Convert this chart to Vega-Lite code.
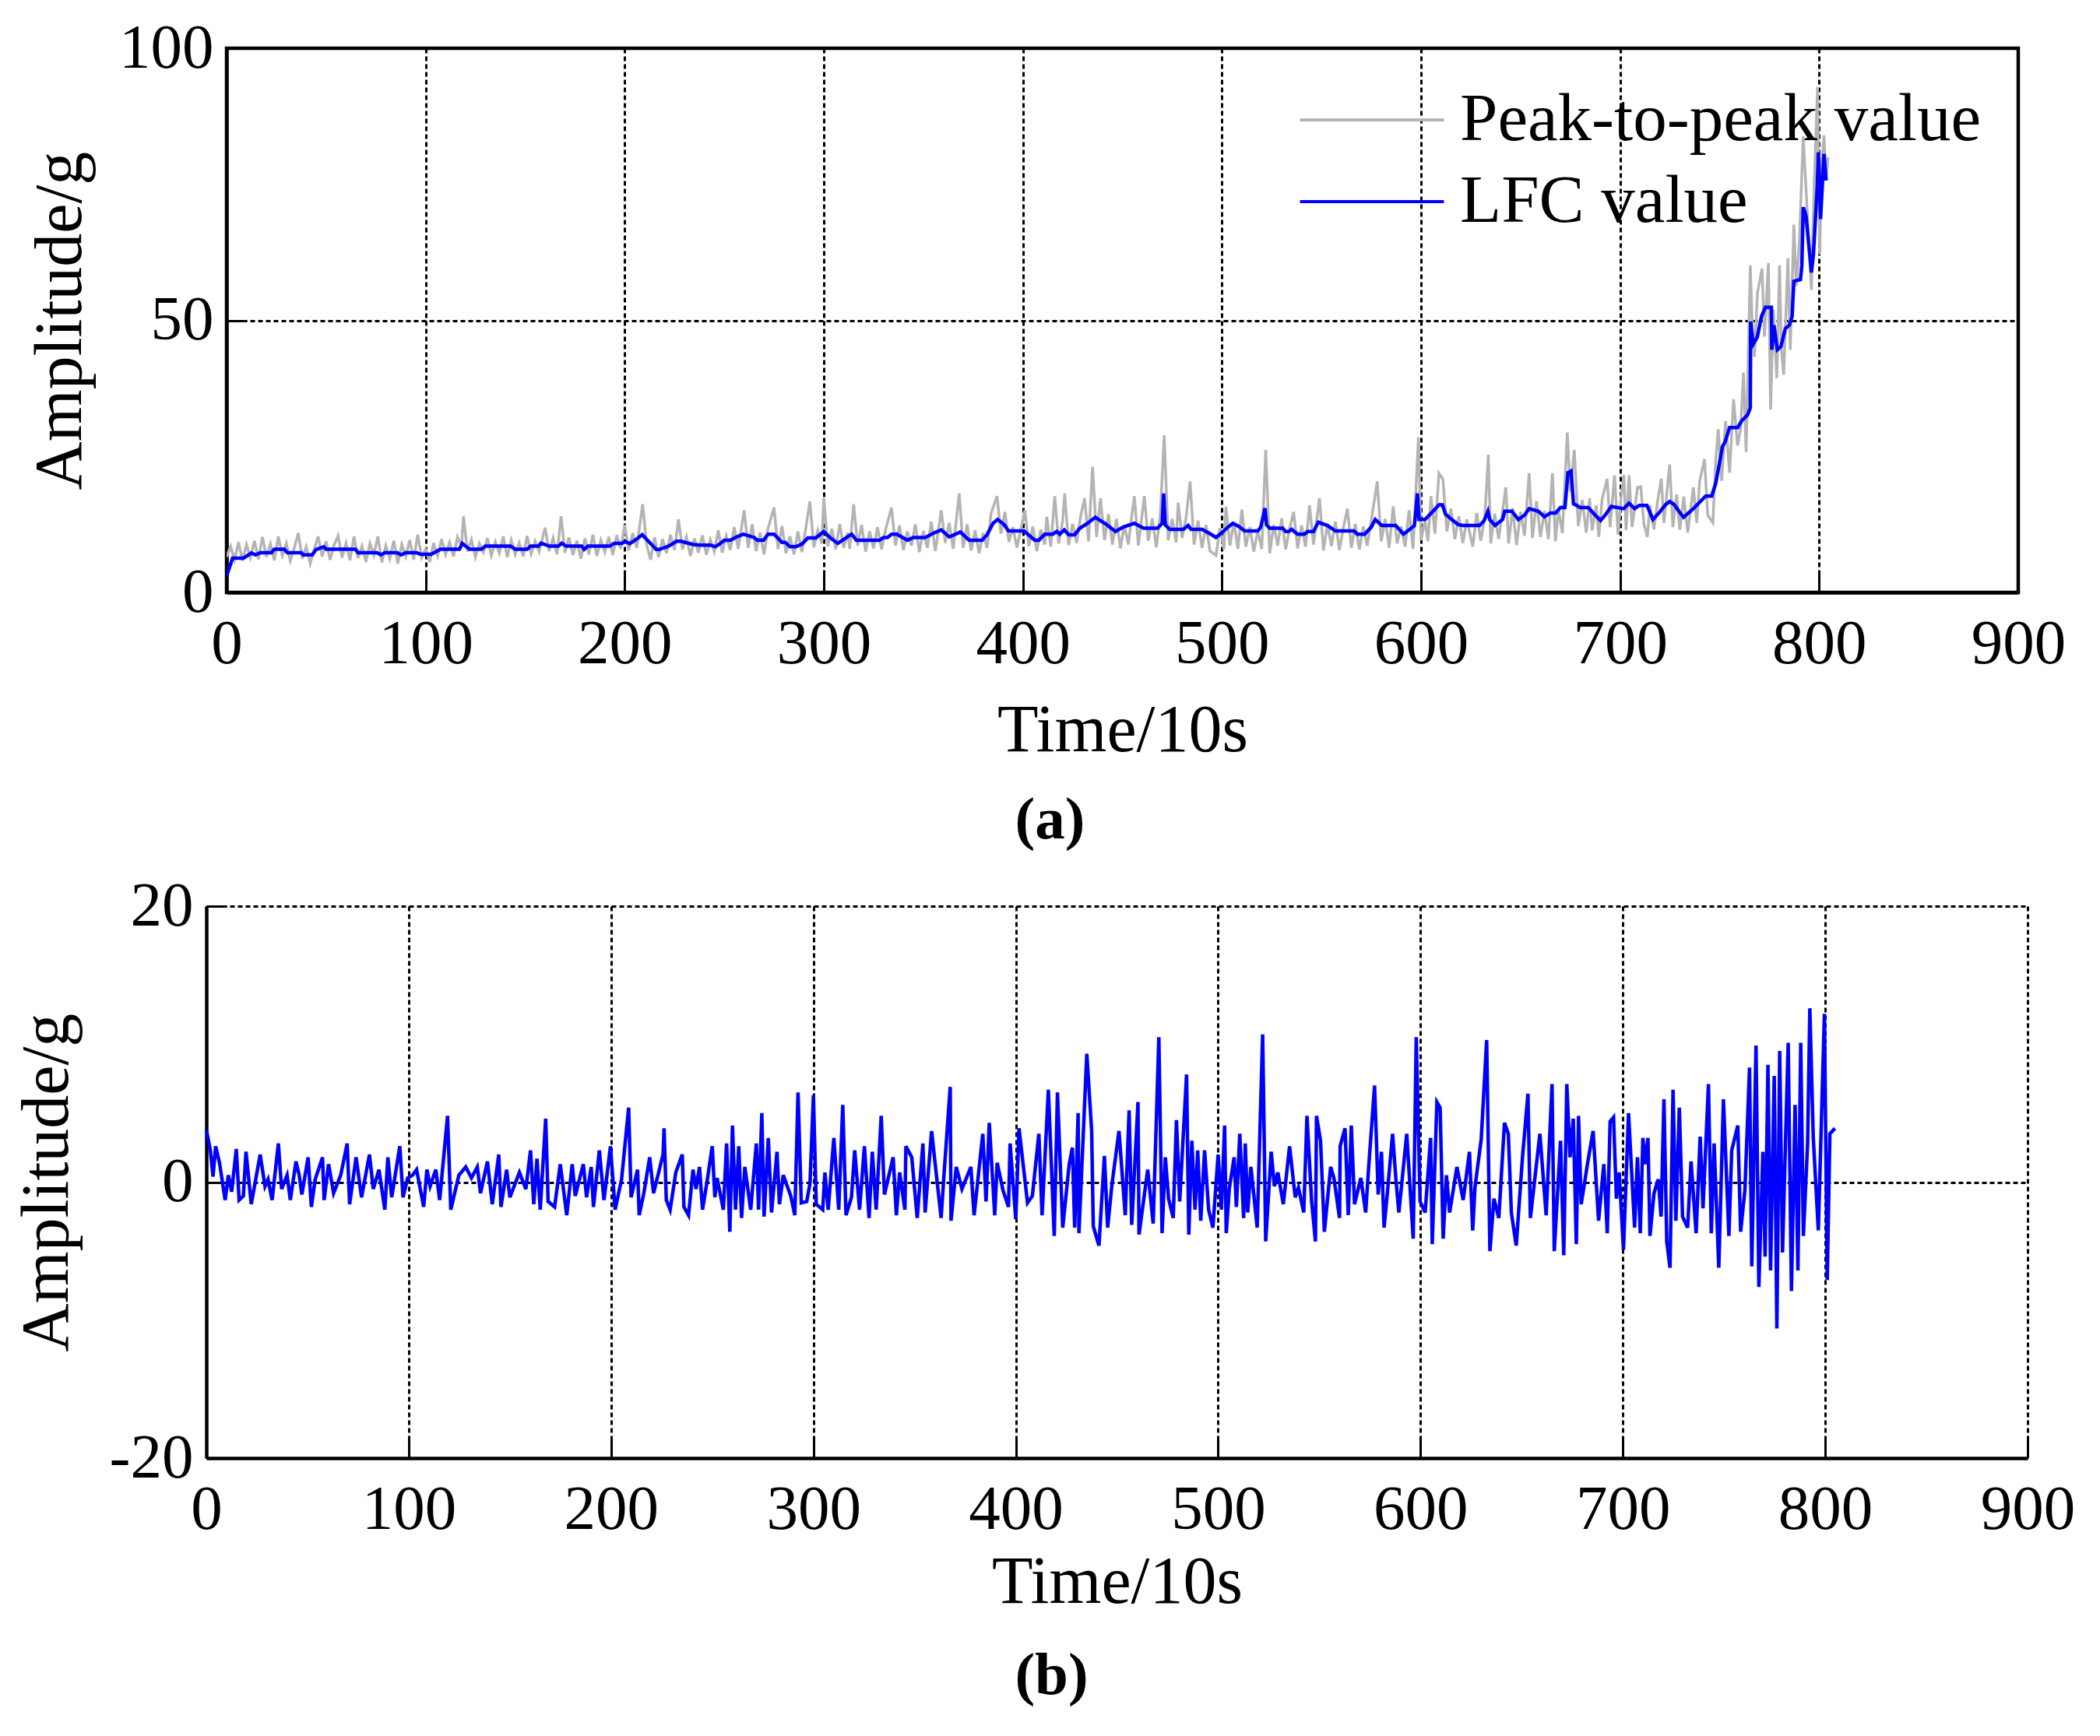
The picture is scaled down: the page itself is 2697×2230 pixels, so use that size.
{
  "$schema": "https://vega.github.io/schema/vega-lite/v6.json",
  "background": "white",
  "padding": {"left": 17, "top": 18, "right": 0, "bottom": 15},
  "spacing": 28,
  "config": {
    "font": "Liberation Serif",
    "view": {"stroke": null},
    "axis": {
      "labelFont": "Liberation Serif", "titleFont": "Liberation Serif",
      "labelFontSize": 81, "titleFontSize": 86,
      "labelColor": "black", "titleColor": "black", "titleFontWeight": "normal",
      "domainColor": "black", "domainWidth": 4.5,
      "tickColor": "black", "tickWidth": 3, "tickSize": -26,
      "grid": true, "gridColor": "black", "gridDash": [6, 4], "gridWidth": 3, "gridOpacity": 1,
      "labelFlush": false, "labelOverlap": false
    },
    "axisX": {"labelPadding": 52},
    "axisY": {"labelPadding": 43}
  },
  "datasets": {
    "pp": [
      {"t":0,"v":6.5},{"t":2,"v":8.5},{"t":4,"v":6.0},{"t":6,"v":9.2},{"t":8,"v":5.8},{"t":10,"v":8.8},{"t":12,"v":6.4},{"t":14,"v":9.5},{"t":16,"v":6.1},{"t":18,"v":10.2},
      {"t":20,"v":6.5},{"t":22,"v":8.9},{"t":24,"v":5.9},{"t":26,"v":10.3},{"t":28,"v":6.8},{"t":30,"v":9.0},{"t":32,"v":5.8},{"t":34,"v":8.1},{"t":36,"v":10.9},{"t":38,"v":6.2},
      {"t":40,"v":8.4},{"t":42,"v":5.3},{"t":44,"v":7.9},{"t":46,"v":10.3},{"t":48,"v":6.6},{"t":50,"v":9.4},{"t":52,"v":6.0},{"t":54,"v":8.7},{"t":56,"v":10.4},{"t":58,"v":6.4},
      {"t":60,"v":9.0},{"t":62,"v":5.9},{"t":64,"v":10.3},{"t":66,"v":6.3},{"t":68,"v":8.5},{"t":70,"v":5.6},{"t":72,"v":9.0},{"t":74,"v":6.9},{"t":76,"v":10.3},{"t":78,"v":5.5},
      {"t":80,"v":8.6},{"t":82,"v":6.2},{"t":84,"v":9.5},{"t":86,"v":5.3},{"t":88,"v":8.8},{"t":90,"v":6.6},{"t":92,"v":9.6},{"t":94,"v":6.0},{"t":96,"v":10.6},{"t":98,"v":6.4},
      {"t":100,"v":8.0},{"t":102,"v":5.6},{"t":104,"v":9.1},{"t":106,"v":6.7},{"t":108,"v":9.8},{"t":110,"v":7.0},{"t":112,"v":9.2},{"t":114,"v":6.6},{"t":116,"v":10.2},{"t":118,"v":8.5},
      {"t":119,"v":14.0},{"t":121,"v":7.5},{"t":123,"v":9.7},{"t":125,"v":6.5},{"t":127,"v":9.0},{"t":129,"v":7.4},{"t":131,"v":10.0},{"t":133,"v":6.8},{"t":135,"v":9.3},{"t":137,"v":7.2},
      {"t":139,"v":10.3},{"t":141,"v":6.5},{"t":143,"v":9.6},{"t":145,"v":7.0},{"t":147,"v":9.1},{"t":149,"v":6.6},{"t":151,"v":10.4},{"t":153,"v":7.1},{"t":155,"v":9.4},{"t":157,"v":7.5},
      {"t":160,"v":11.9},{"t":162,"v":7.6},{"t":164,"v":10.0},{"t":166,"v":7.0},{"t":168,"v":14.0},{"t":170,"v":7.3},{"t":172,"v":10.1},{"t":174,"v":6.9},{"t":176,"v":9.5},{"t":178,"v":6.2},
      {"t":180,"v":9.9},{"t":182,"v":7.0},{"t":184,"v":10.6},{"t":186,"v":6.7},{"t":188,"v":9.6},{"t":190,"v":7.4},{"t":192,"v":10.2},{"t":194,"v":6.9},{"t":196,"v":10.5},{"t":198,"v":8.0},
      {"t":200,"v":12.4},{"t":202,"v":7.7},{"t":204,"v":10.9},{"t":206,"v":8.2},{"t":209,"v":16.2},{"t":211,"v":8.8},{"t":213,"v":6.0},{"t":215,"v":10.1},{"t":217,"v":6.5},{"t":219,"v":9.8},
      {"t":221,"v":7.2},{"t":223,"v":10.6},{"t":225,"v":7.8},{"t":227,"v":13.4},{"t":229,"v":7.9},{"t":231,"v":10.2},{"t":233,"v":6.7},{"t":235,"v":9.9},{"t":237,"v":7.3},{"t":239,"v":10.5},
      {"t":241,"v":6.9},{"t":243,"v":9.7},{"t":245,"v":7.5},{"t":247,"v":11.4},{"t":249,"v":7.3},{"t":251,"v":10.4},{"t":253,"v":7.8},{"t":255,"v":12.0},{"t":257,"v":8.0},{"t":260,"v":15.1},
      {"t":262,"v":8.2},{"t":264,"v":12.5},{"t":266,"v":7.6},{"t":268,"v":11.0},{"t":270,"v":7.0},{"t":272,"v":11.8},{"t":275,"v":15.6},{"t":277,"v":8.0},{"t":279,"v":12.2},{"t":281,"v":7.2},
      {"t":283,"v":10.3},{"t":285,"v":7.0},{"t":287,"v":11.2},{"t":289,"v":7.4},{"t":291,"v":11.9},{"t":293,"v":16.7},{"t":295,"v":8.3},{"t":297,"v":11.4},{"t":299,"v":9.0},{"t":300,"v":17.3},
      {"t":302,"v":8.5},{"t":304,"v":11.7},{"t":306,"v":7.9},{"t":308,"v":12.6},{"t":310,"v":8.2},{"t":312,"v":11.0},{"t":313,"v":8.0},{"t":315,"v":16.2},{"t":317,"v":8.6},{"t":319,"v":12.4},
      {"t":321,"v":7.5},{"t":323,"v":11.2},{"t":325,"v":8.1},{"t":327,"v":12.0},{"t":329,"v":7.9},{"t":331,"v":11.5},{"t":334,"v":15.6},{"t":336,"v":8.6},{"t":338,"v":12.3},{"t":340,"v":7.8},
      {"t":342,"v":11.2},{"t":344,"v":8.6},{"t":346,"v":12.5},{"t":348,"v":7.4},{"t":350,"v":11.3},{"t":352,"v":8.2},{"t":354,"v":13.0},{"t":356,"v":7.6},{"t":359,"v":15.1},{"t":361,"v":9.1},
      {"t":363,"v":12.8},{"t":365,"v":8.0},{"t":368,"v":18.2},{"t":370,"v":8.2},{"t":372,"v":12.5},{"t":374,"v":7.7},{"t":376,"v":11.4},{"t":378,"v":7.2},{"t":380,"v":10.9},{"t":382,"v":8.2},
      {"t":384,"v":14.5},{"t":387,"v":17.7},{"t":389,"v":10.8},{"t":391,"v":14.8},{"t":393,"v":9.3},{"t":395,"v":12.0},{"t":397,"v":8.2},{"t":399,"v":11.6},{"t":401,"v":15.1},{"t":403,"v":8.5},
      {"t":405,"v":12.1},{"t":407,"v":7.6},{"t":409,"v":11.5},{"t":411,"v":8.8},{"t":412,"v":13.9},{"t":414,"v":8.4},{"t":416,"v":17.7},{"t":418,"v":9.0},{"t":420,"v":13.2},{"t":421,"v":18.2},
      {"t":423,"v":8.7},{"t":425,"v":12.6},{"t":427,"v":9.1},{"t":429,"v":14.0},{"t":431,"v":17.3},{"t":433,"v":9.4},{"t":435,"v":23.1},{"t":437,"v":10.2},{"t":439,"v":17.3},{"t":441,"v":9.6},
      {"t":443,"v":14.4},{"t":445,"v":8.8},{"t":447,"v":13.5},{"t":449,"v":8.1},{"t":451,"v":12.4},{"t":453,"v":8.8},{"t":455,"v":15.0},{"t":456,"v":17.7},{"t":458,"v":8.6},{"t":461,"v":17.7},
      {"t":463,"v":9.5},{"t":465,"v":13.6},{"t":467,"v":8.3},{"t":469,"v":14.1},{"t":471,"v":28.9},{"t":473,"v":9.6},{"t":475,"v":13.5},{"t":477,"v":9.2},{"t":478,"v":16.5},{"t":480,"v":10.0},
      {"t":482,"v":13.8},{"t":484,"v":20.4},{"t":486,"v":8.8},{"t":488,"v":13.2},{"t":490,"v":8.2},{"t":492,"v":12.4},{"t":494,"v":7.6},{"t":497,"v":6.8},{"t":499,"v":11.8},{"t":501,"v":7.9},
      {"t":502,"v":15.8},{"t":504,"v":8.6},{"t":506,"v":12.9},{"t":508,"v":8.0},{"t":510,"v":15.2},{"t":512,"v":8.4},{"t":514,"v":12.0},{"t":516,"v":7.5},{"t":518,"v":11.3},{"t":520,"v":8.0},
      {"t":522,"v":26.2},{"t":524,"v":7.2},{"t":526,"v":12.4},{"t":528,"v":8.6},{"t":530,"v":13.6},{"t":532,"v":7.9},{"t":534,"v":11.8},{"t":536,"v":14.8},{"t":538,"v":8.1},{"t":540,"v":12.3},
      {"t":542,"v":8.4},{"t":544,"v":16.0},{"t":546,"v":8.8},{"t":549,"v":17.3},{"t":551,"v":7.7},{"t":553,"v":12.6},{"t":555,"v":8.5},{"t":557,"v":13.0},{"t":559,"v":7.8},{"t":561,"v":11.9},
      {"t":563,"v":15.4},{"t":565,"v":8.2},{"t":567,"v":12.6},{"t":569,"v":7.9},{"t":571,"v":12.1},{"t":573,"v":8.6},{"t":575,"v":13.2},{"t":578,"v":20.4},{"t":580,"v":9.4},{"t":582,"v":13.5},
      {"t":584,"v":8.2},{"t":586,"v":15.8},{"t":588,"v":9.0},{"t":590,"v":12.1},{"t":592,"v":8.4},{"t":594,"v":15.1},{"t":596,"v":8.0},{"t":598.7,"v":28.5},{"t":600,"v":9.6},{"t":602,"v":13.2},
      {"t":603.5,"v":9.4},{"t":605,"v":17.7},{"t":607,"v":10.8},{"t":609,"v":21.9},{"t":611,"v":20.8},{"t":613,"v":11.2},{"t":615,"v":15.4},{"t":617,"v":9.8},{"t":619,"v":14.0},{"t":621,"v":9.1},
      {"t":623,"v":13.4},{"t":626,"v":8.4},{"t":628,"v":14.6},{"t":630,"v":9.5},{"t":632,"v":13.7},{"t":633.8,"v":25.3},{"t":635,"v":9.0},{"t":637,"v":14.5},{"t":639,"v":9.8},{"t":641,"v":15.1},
      {"t":642.6,"v":19.3},{"t":644,"v":9.0},{"t":646,"v":15.5},{"t":648,"v":8.7},{"t":650,"v":14.8},{"t":652,"v":10.4},{"t":654.3,"v":21.9},{"t":656,"v":10.0},{"t":658,"v":16.8},{"t":660,"v":10.2},
      {"t":662,"v":15.0},{"t":664,"v":9.8},{"t":666,"v":21.9},{"t":667.5,"v":9.4},{"t":669,"v":15.2},{"t":671,"v":10.9},{"t":673.5,"v":29.4},{"t":675,"v":18.5},{"t":677,"v":26.2},{"t":679,"v":12.2},
      {"t":681,"v":17.0},{"t":683,"v":11.0},{"t":684.7,"v":17.3},{"t":686,"v":11.4},{"t":688,"v":16.0},{"t":689.3,"v":10.2},{"t":691,"v":17.2},{"t":693.5,"v":20.9},{"t":695,"v":12.0},{"t":697.2,"v":21.5},
      {"t":699,"v":10.6},{"t":700.5,"v":17.5},{"t":701.9,"v":21.6},{"t":703,"v":11.5},{"t":704.5,"v":21.5},{"t":706,"v":12.0},{"t":708.8,"v":19.3},{"t":710.4,"v":19.4},{"t":712,"v":12.5},{"t":713.7,"v":10.2},
      {"t":715,"v":16.0},{"t":717,"v":11.6},{"t":719,"v":17.2},{"t":720.7,"v":20.9},{"t":722,"v":12.8},{"t":724.9,"v":23.5},{"t":726.5,"v":12.0},{"t":728.4,"v":18.0},{"t":730,"v":11.5},{"t":732,"v":17.6},
      {"t":734,"v":11.0},{"t":736.8,"v":19.3},{"t":738.5,"v":12.8},{"t":740,"v":20.5},{"t":742.4,"v":24.5},{"t":744,"v":14.2},{"t":746.6,"v":12.8},{"t":748,"v":24.0},{"t":749.3,"v":30.0},{"t":751,"v":20.5},
      {"t":753,"v":31.5},{"t":755,"v":22.0},{"t":757,"v":35.5},{"t":759,"v":27.0},{"t":760.5,"v":30.0},{"t":762,"v":40.4},{"t":763.3,"v":25.8},{"t":765.4,"v":60.1},{"t":766.5,"v":48.0},{"t":767.5,"v":43.3},
      {"t":769,"v":55.0},{"t":771.3,"v":59.5},{"t":772.5,"v":47.0},{"t":774.5,"v":60.5},{"t":775.6,"v":33.6},{"t":777,"v":52.0},{"t":778.7,"v":39.4},{"t":780.1,"v":60.1},{"t":781,"v":45.0},{"t":782.2,"v":40.0},
      {"t":784.3,"v":61.4},{"t":785.5,"v":44.6},{"t":787.3,"v":67.6},{"t":788.5,"v":56.3},{"t":790,"v":64.0},{"t":792,"v":83.8},{"t":794,"v":70.0},{"t":796.1,"v":55.6},{"t":797.5,"v":75.0},{"t":799.2,"v":92.9},
      {"t":800.3,"v":62.1},{"t":801.2,"v":78.0},{"t":802.4,"v":84.0},{"t":803.5,"v":76.0},{"t":804.5,"v":80.0}
    ],
    "lfc": [
      {"t":0,"v":3.0},{"t":3,"v":6.3},{"t":8.5,"v":6.3},{"t":12.5,"v":7.25},{"t":14.5,"v":6.9},{"t":17,"v":7.3},{"t":22.5,"v":7.3},{"t":24,"v":7.95},{"t":29,"v":7.95},{"t":30.5,"v":7.3},
      {"t":37.5,"v":7.3},{"t":38.5,"v":6.9},{"t":43,"v":6.9},{"t":45,"v":7.9},{"t":48.8,"v":8.4},{"t":50,"v":7.95},{"t":64.7,"v":7.95},{"t":66,"v":7.3},{"t":75.6,"v":7.3},{"t":77.5,"v":6.9},
      {"t":79.5,"v":7.3},{"t":85.7,"v":7.3},{"t":87.7,"v":6.9},{"t":90,"v":7.3},{"t":95.5,"v":7.3},{"t":97.4,"v":7.0},{"t":102.8,"v":7.0},{"t":107.5,"v":7.95},{"t":117,"v":7.95},{"t":118.4,"v":9.0},
      {"t":122,"v":7.95},{"t":128,"v":7.95},{"t":130,"v":8.5},{"t":142.6,"v":8.5},{"t":145,"v":7.95},{"t":151,"v":7.95},{"t":152.7,"v":8.5},{"t":156.6,"v":8.5},{"t":158,"v":9.05},{"t":162,"v":8.5},
      {"t":166.7,"v":8.5},{"t":168.3,"v":9.05},{"t":170.6,"v":8.5},{"t":178.4,"v":8.5},{"t":179.6,"v":7.9},{"t":181.5,"v":8.5},{"t":192.4,"v":8.5},{"t":194.7,"v":9.0},{"t":198.6,"v":9.0},{"t":200.2,"v":9.4},
      {"t":202.5,"v":8.95},{"t":206.4,"v":9.9},{"t":208.8,"v":10.6},{"t":211.9,"v":9.4},{"t":215.8,"v":7.9},{"t":217.3,"v":7.9},{"t":222,"v":8.5},{"t":226,"v":9.4},{"t":228.2,"v":9.4},{"t":234.5,"v":8.8},
      {"t":238,"v":8.7},{"t":243,"v":8.7},{"t":245.5,"v":8.4},{"t":248,"v":9.0},{"t":250,"v":9.6},{"t":253,"v":9.6},{"t":255.7,"v":10.1},{"t":259.6,"v":10.7},{"t":265,"v":10.1},{"t":266.6,"v":9.6},
      {"t":269.7,"v":9.6},{"t":272,"v":10.7},{"t":275,"v":10.7},{"t":279,"v":9.2},{"t":280.6,"v":9.2},{"t":283,"v":8.4},{"t":286,"v":8.4},{"t":289,"v":8.9},{"t":292,"v":10.0},{"t":296,"v":10.0},
      {"t":300,"v":11.2},{"t":303,"v":10.1},{"t":307,"v":9.0},{"t":311,"v":10.0},{"t":314,"v":10.7},{"t":316.4,"v":9.6},{"t":328,"v":9.6},{"t":330,"v":10.1},{"t":332,"v":10.1},{"t":334,"v":10.7},
      {"t":336.7,"v":10.7},{"t":342,"v":9.6},{"t":345,"v":10.1},{"t":351,"v":10.1},{"t":354.6,"v":10.8},{"t":359,"v":11.5},{"t":363,"v":10.2},{"t":368.6,"v":11.1},{"t":373,"v":9.6},{"t":379.5,"v":9.6},
      {"t":382,"v":10.6},{"t":385,"v":12.7},{"t":387.3,"v":13.4},{"t":390.5,"v":12.5},{"t":392.8,"v":11.3},{"t":400.6,"v":11.3},{"t":406,"v":9.6},{"t":408,"v":9.6},{"t":411,"v":10.7},{"t":415,"v":10.7},
      {"t":417,"v":11.2},{"t":418.5,"v":10.7},{"t":420.8,"v":11.5},{"t":423,"v":10.6},{"t":426,"v":10.6},{"t":428.6,"v":11.8},{"t":432.5,"v":12.7},{"t":436.4,"v":13.8},{"t":441.9,"v":12.5},{"t":446.5,"v":11.2},
      {"t":450.4,"v":12.0},{"t":456,"v":12.7},{"t":460.6,"v":11.8},{"t":467.6,"v":11.8},{"t":470,"v":12.7},{"t":470.7,"v":18.2},{"t":471.5,"v":12.4},{"t":473.8,"v":11.6},{"t":480.6,"v":11.6},{"t":483,"v":12.3},
      {"t":484.5,"v":11.6},{"t":490,"v":11.6},{"t":494,"v":10.8},{"t":497,"v":10.1},{"t":500,"v":11.0},{"t":503,"v":12.0},{"t":505.5,"v":12.7},{"t":508.6,"v":12.1},{"t":511.4,"v":11.3},{"t":518,"v":11.3},
      {"t":519.5,"v":12.0},{"t":521.6,"v":15.5},{"t":522.4,"v":12.4},{"t":524,"v":11.8},{"t":530.5,"v":11.8},{"t":532,"v":11.2},{"t":533.6,"v":11.2},{"t":535,"v":11.6},{"t":538,"v":10.7},{"t":541.4,"v":10.7},
      {"t":543,"v":11.2},{"t":546,"v":11.2},{"t":548.4,"v":12.9},{"t":553,"v":12.3},{"t":557,"v":11.3},{"t":566.3,"v":11.3},{"t":568,"v":10.7},{"t":571.7,"v":10.7},{"t":575,"v":12.0},{"t":577,"v":13.4},
      {"t":580.3,"v":12.3},{"t":587.3,"v":12.3},{"t":591.2,"v":10.7},{"t":594.3,"v":11.6},{"t":596.7,"v":12.3},{"t":598.2,"v":18.2},{"t":599,"v":13.4},{"t":602,"v":13.4},{"t":606,"v":14.9},{"t":609,"v":16.1},
      {"t":610.7,"v":16.1},{"t":612.3,"v":14.4},{"t":615.4,"v":13.4},{"t":618.5,"v":12.5},{"t":620.8,"v":12.3},{"t":629.4,"v":12.3},{"t":631.7,"v":13.2},{"t":633.6,"v":14.9},{"t":634.5,"v":13.4},{"t":637.2,"v":12.3},
      {"t":641,"v":13.4},{"t":642,"v":14.9},{"t":645.7,"v":14.9},{"t":648.9,"v":13.4},{"t":652,"v":14.2},{"t":654.3,"v":15.4},{"t":659,"v":14.9},{"t":662,"v":13.9},{"t":665,"v":14.6},{"t":667.6,"v":14.6},
      {"t":670,"v":15.6},{"t":672.3,"v":15.6},{"t":673.8,"v":22.0},{"t":675.4,"v":22.3},{"t":676.6,"v":16.3},{"t":680,"v":15.6},{"t":684,"v":15.6},{"t":687,"v":14.4},{"t":690.2,"v":13.2},{"t":692.5,"v":14.2},
      {"t":695.6,"v":15.8},{"t":697,"v":15.7},{"t":701.8,"v":15.4},{"t":704.5,"v":16.4},{"t":707.3,"v":15.4},{"t":709.6,"v":16.0},{"t":713.5,"v":16.0},{"t":716.5,"v":13.4},{"t":719.3,"v":14.5},{"t":722.8,"v":16.1},
      {"t":724.9,"v":16.7},{"t":727,"v":16.2},{"t":729.8,"v":14.8},{"t":731.9,"v":13.8},{"t":736.8,"v":15.4},{"t":740.3,"v":16.7},{"t":743,"v":17.7},{"t":746,"v":17.7},{"t":748,"v":20.0},{"t":750,"v":23.9},
      {"t":751.4,"v":26.8},{"t":752.8,"v":27.7},{"t":755,"v":30.3},{"t":759.1,"v":30.3},{"t":761.2,"v":31.6},{"t":764,"v":32.6},{"t":765.4,"v":33.9},{"t":765.6,"v":49.8},{"t":766.8,"v":45.6},{"t":768.9,"v":46.9},
      {"t":771,"v":50.7},{"t":773,"v":52.4},{"t":776,"v":52.4},{"t":776.2,"v":44.6},{"t":777.3,"v":49.1},{"t":779,"v":44.6},{"t":780.8,"v":45.2},{"t":783,"v":48.5},{"t":785,"v":49.1},{"t":786.4,"v":50.7},
      {"t":787.3,"v":57.2},{"t":790.6,"v":57.5},{"t":791.3,"v":60.1},{"t":792,"v":70.8},{"t":793.4,"v":69.2},{"t":796.1,"v":58.8},{"t":797.1,"v":62.0},{"t":799,"v":74.4},{"t":799.6,"v":80.9},{"t":800.3,"v":74.4},
      {"t":800.7,"v":68.6},{"t":802.4,"v":80.6},{"t":803.5,"v":75.7}
    ],
    "d": [
      {"t":0,"v":3.8},{"t":2,"v":2.3},{"t":3.3,"v":0.4},{"t":4.6,"v":2.6},{"t":6.5,"v":1.4},{"t":9.3,"v":-1.3},{"t":10.9,"v":0.5},{"t":12.5,"v":-0.7},{"t":14.8,"v":2.4},{"t":16.2,"v":-1.3},
      {"t":18.3,"v":-1.0},{"t":19.6,"v":2.2},{"t":22.2,"v":-1.6},{"t":26.6,"v":2.0},{"t":29,"v":-0.3},{"t":30.5,"v":0.2},{"t":32.5,"v":-1.3},{"t":35.6,"v":2.8},{"t":37.2,"v":-0.5},{"t":39.9,"v":0.5},
      {"t":41.5,"v":-1.3},{"t":44.3,"v":1.5},{"t":45.9,"v":0.5},{"t":47.2,"v":-0.9},{"t":50.3,"v":1.8},{"t":51.9,"v":-1.8},{"t":53.8,"v":0.2},{"t":57.4,"v":1.8},{"t":58.2,"v":-1.3},{"t":60.4,"v":1.3},
      {"t":62.9,"v":-0.8},{"t":66.4,"v":0.5},{"t":69.6,"v":2.8},{"t":70.8,"v":-1.6},{"t":74,"v":1.8},{"t":76.7,"v":-1.1},{"t":80.6,"v":2.0},{"t":82.5,"v":-0.5},{"t":85.3,"v":0.9},{"t":88.2,"v":-2.0},
      {"t":89.7,"v":1.8},{"t":91.6,"v":-1.1},{"t":95.6,"v":2.6},{"t":97.2,"v":-1.1},{"t":99.5,"v":0.3},{"t":101.9,"v":0.5},{"t":103.9,"v":0.9},{"t":107.4,"v":-1.8},{"t":109,"v":0.9},{"t":110.6,"v":-0.3},
      {"t":113.4,"v":0.9},{"t":115.3,"v":-1.3},{"t":119.2,"v":4.8},{"t":120.8,"v":-2.0},{"t":124.8,"v":0.5},{"t":128.2,"v":1.1},{"t":131,"v":0.3},{"t":133.9,"v":1.1},{"t":135.5,"v":-0.8},{"t":138.9,"v":1.5},
      {"t":141.3,"v":-1.6},{"t":144.5,"v":2.0},{"t":145.6,"v":-1.8},{"t":148.4,"v":0.9},{"t":150,"v":-1.1},{"t":154.7,"v":0.7},{"t":157.9,"v":-0.5},{"t":160.2,"v":2.3},{"t":161.8,"v":-1.6},{"t":163.4,"v":1.7},
      {"t":165,"v":-2.0},{"t":167.7,"v":4.6},{"t":168.9,"v":-1.4},{"t":172.1,"v":-1.8},{"t":174.9,"v":1.3},{"t":178.1,"v":-2.4},{"t":180.8,"v":1.3},{"t":182.3,"v":-1.0},{"t":186.3,"v":1.3},{"t":187.9,"v":-1.1},
      {"t":190.2,"v":1.1},{"t":191.3,"v":-1.8},{"t":194.2,"v":2.3},{"t":196.5,"v":-1.3},{"t":199.7,"v":2.6},{"t":202,"v":-2.0},{"t":205.2,"v":0.2},{"t":208.7,"v":5.4},{"t":209.9,"v":-1.1},{"t":213.1,"v":0.9},
      {"t":213.9,"v":-2.4},{"t":216.2,"v":-0.8},{"t":219.1,"v":1.8},{"t":221,"v":-0.8},{"t":225.7,"v":2.0},{"t":226.2,"v":3.9},{"t":227.3,"v":-1.3},{"t":229.2,"v":-2.0},{"t":232,"v":0.7},{"t":235.2,"v":2.0},
      {"t":236,"v":-1.8},{"t":238.3,"v":-2.4},{"t":240.5,"v":0.9},{"t":242,"v":-0.5},{"t":243.7,"v":1.1},{"t":245.2,"v":-2.0},{"t":247.6,"v":0.2},{"t":250,"v":2.6},{"t":251.3,"v":-1.1},{"t":252.4,"v":0.3},
      {"t":255.5,"v":-2.0},{"t":257.1,"v":2.8},{"t":258.7,"v":-3.6},{"t":260,"v":4.1},{"t":261.5,"v":-2.0},{"t":263.1,"v":2.6},{"t":264.5,"v":-2.6},{"t":266.1,"v":1.1},{"t":269,"v":-2.0},{"t":271.8,"v":2.8},
      {"t":272.9,"v":-2.0},{"t":274.5,"v":5.0},{"t":275.6,"v":-2.5},{"t":277.7,"v":3.2},{"t":279.3,"v":-2.2},{"t":282,"v":2.2},{"t":283.2,"v":-1.6},{"t":285.1,"v":0.5},{"t":288.8,"v":-1.0},{"t":290.8,"v":-2.4},
      {"t":292.4,"v":6.5},{"t":294,"v":-1.5},{"t":296.7,"v":-1.4},{"t":298.3,"v":-0.1},{"t":300,"v":6.3},{"t":301.4,"v":-1.6},{"t":304.6,"v":-2.0},{"t":305.7,"v":0.7},{"t":307.3,"v":-2.0},{"t":310.1,"v":3.2},
      {"t":312.5,"v":-2.0},{"t":314.5,"v":5.6},{"t":316.1,"v":-2.4},{"t":318.8,"v":-1.1},{"t":320.4,"v":2.3},{"t":322.8,"v":-2.0},{"t":325.2,"v":2.6},{"t":327.5,"v":-2.6},{"t":329.1,"v":2.2},{"t":331,"v":-2.0},
      {"t":333.5,"v":4.8},{"t":335.1,"v":-0.9},{"t":339.4,"v":1.8},{"t":341,"v":-2.4},{"t":342.6,"v":0.7},{"t":345.2,"v":-2.0},{"t":345.7,"v":2.6},{"t":348.6,"v":1.8},{"t":351.3,"v":-2.6},{"t":354.1,"v":2.8},
      {"t":355.2,"v":-2.2},{"t":358.4,"v":3.7},{"t":363.1,"v":-2.6},{"t":364.7,"v":0.9},{"t":367.6,"v":6.9},{"t":368,"v":-2.8},{"t":370.6,"v":1.1},{"t":373.4,"v":-0.5},{"t":377.8,"v":1.1},{"t":379.4,"v":-2.4},
      {"t":383.7,"v":3.5},{"t":385.3,"v":-1.4},{"t":386.9,"v":4.3},{"t":389.6,"v":-2.4},{"t":390.8,"v":1.4},{"t":393.7,"v":-0.6},{"t":396.4,"v":-1.8},{"t":397.2,"v":2.8},{"t":400,"v":-2.7},{"t":401.6,"v":3.9},
      {"t":405.8,"v":-1.5},{"t":408.2,"v":-1.0},{"t":411.4,"v":3.5},{"t":413,"v":-2.4},{"t":416.1,"v":6.7},{"t":419,"v":-3.9},{"t":420.6,"v":6.5},{"t":423.2,"v":-3.3},{"t":426.4,"v":1.3},{"t":428,"v":2.5},
      {"t":429.1,"v":-3.3},{"t":430.8,"v":5.0},{"t":431.2,"v":-3.7},{"t":435.1,"v":9.3},{"t":437.5,"v":3.7},{"t":438.3,"v":-3.2},{"t":441.1,"v":-4.6},{"t":443.8,"v":1.9},{"t":445.4,"v":-3.3},{"t":447.5,"v":-0.2},
      {"t":451,"v":3.7},{"t":454.1,"v":-2.4},{"t":456,"v":5.2},{"t":457.3,"v":-3.1},{"t":460.4,"v":5.8},{"t":460.9,"v":-3.8},{"t":465.2,"v":0.9},{"t":467.9,"v":-3.0},{"t":470.7,"v":10.5},{"t":472.3,"v":-3.7},
      {"t":473.9,"v":1.8},{"t":475.5,"v":-1.2},{"t":477.8,"v":-2.6},{"t":479.4,"v":4.5},{"t":481,"v":-1.4},{"t":484.4,"v":7.8},{"t":485.5,"v":-3.8},{"t":487,"v":3.0},{"t":488.6,"v":-2.0},{"t":489.9,"v":2.3},
      {"t":491.4,"v":-2.8},{"t":493.3,"v":2.3},{"t":495.3,"v":-2.0},{"t":497.4,"v":-3.3},{"t":500,"v":2.0},{"t":501.6,"v":-2.0},{"t":503.2,"v":4.1},{"t":504,"v":-3.7},{"t":505.5,"v":-0.5},{"t":507.9,"v":1.8},
      {"t":509,"v":-1.8},{"t":510.7,"v":3.5},{"t":512.6,"v":-2.6},{"t":513.4,"v":2.8},{"t":514.6,"v":-2.2},{"t":516.2,"v":1.1},{"t":519.3,"v":-3.3},{"t":522,"v":10.7},{"t":523.5,"v":-4.3},{"t":526.2,"v":2.2},
      {"t":527.8,"v":-0.3},{"t":529.5,"v":0.7},{"t":532.2,"v":-1.6},{"t":535.3,"v":2.6},{"t":538.1,"v":-1.1},{"t":539.7,"v":-0.4},{"t":542.3,"v":-2.2},{"t":543.9,"v":4.8},{"t":546.2,"v":-1.4},{"t":548.1,"v":-4.3},
      {"t":548.6,"v":4.8},{"t":550.6,"v":3.0},{"t":552.5,"v":-3.6},{"t":555.6,"v":1.1},{"t":557.2,"v":0.3},{"t":560,"v":-2.6},{"t":560.3,"v":2.6},{"t":562.7,"v":3.9},{"t":564.3,"v":-2.4},{"t":565.8,"v":4.1},
      {"t":567.4,"v":-1.6},{"t":570.5,"v":0.3},{"t":572.9,"v":-2.2},{"t":574.4,"v":1.1},{"t":577.3,"v":7.0},{"t":579.1,"v":-0.9},{"t":580.7,"v":2.2},{"t":582,"v":-3.3},{"t":583.8,"v":-0.5},{"t":586.2,"v":3.5},
      {"t":587.8,"v":0.3},{"t":589.3,"v":-2.2},{"t":593.2,"v":3.5},{"t":596.4,"v":-4.1},{"t":597.9,"v":10.5},{"t":599.8,"v":-1.4},{"t":602.3,"v":-2.2},{"t":605,"v":3.2},{"t":605.8,"v":-4.5},{"t":608.1,"v":5.8},
      {"t":609.7,"v":5.4},{"t":611.2,"v":-4.1},{"t":612.8,"v":0.5},{"t":614.4,"v":-2.2},{"t":618,"v":1.1},{"t":621.1,"v":-1.3},{"t":624.2,"v":2.2},{"t":625.8,"v":-3.5},{"t":626.9,"v":-0.4},{"t":630,"v":3.1},
      {"t":632.7,"v":10.3},{"t":634.3,"v":-5.0},{"t":636.3,"v":-1.2},{"t":638.7,"v":-2.6},{"t":641.5,"v":4.3},{"t":643.4,"v":3.5},{"t":644.9,"v":-2.2},{"t":647.3,"v":-4.6},{"t":650.4,"v":1.8},{"t":653.1,"v":6.4},
      {"t":654.3,"v":-2.6},{"t":659,"v":3.5},{"t":662.1,"v":-2.4},{"t":665,"v":7.1},{"t":666.1,"v":-5.0},{"t":669.2,"v":3.0},{"t":670.8,"v":-5.3},{"t":672.3,"v":7.1},{"t":673.9,"v":1.8},{"t":675.5,"v":4.6},
      {"t":677,"v":-4.5},{"t":678.1,"v":4.8},{"t":679.4,"v":-1.6},{"t":682.5,"v":1.3},{"t":685.3,"v":3.7},{"t":688,"v":-2.8},{"t":690.6,"v":1.3},{"t":692.3,"v":-3.7},{"t":693.7,"v":4.4},{"t":695.4,"v":4.7},
      {"t":696.8,"v":-1.2},{"t":698.2,"v":0.7},{"t":700.3,"v":-4.9},{"t":702.8,"v":5.0},{"t":705.8,"v":-3.3},{"t":707.2,"v":1.8},{"t":708.6,"v":-3.7},{"t":709.9,"v":3.2},{"t":711,"v":1.3},{"t":712.4,"v":3.2},
      {"t":713.4,"v":-3.9},{"t":715.4,"v":-0.8},{"t":717.5,"v":0.2},{"t":718.9,"v":-2.5},{"t":720.3,"v":6.0},{"t":721.7,"v":-4.3},{"t":723.3,"v":-6.2},{"t":724.8,"v":6.7},{"t":726.2,"v":-2.8},{"t":727.9,"v":5.4},
      {"t":729.5,"v":-2.5},{"t":732,"v":-3.3},{"t":733.7,"v":1.5},{"t":736.2,"v":-3.7},{"t":738.2,"v":3.3},{"t":739.6,"v":-1.9},{"t":742.3,"v":7.1},{"t":743.7,"v":-3.7},{"t":745.1,"v":2.8},{"t":747.4,"v":-6.2},
      {"t":749.7,"v":6.0},{"t":752.4,"v":-3.9},{"t":753.8,"v":2.3},{"t":756.8,"v":4.1},{"t":758.2,"v":-3.6},{"t":760.3,"v":-0.6},{"t":762.6,"v":8.3},{"t":763.7,"v":-6.1},{"t":765.8,"v":9.9},{"t":767.2,"v":-7.6},
      {"t":769.2,"v":2.2},{"t":770.3,"v":-5.4},{"t":771.7,"v":8.5},{"t":773,"v":-6.4},{"t":774.8,"v":7.7},{"t":776.1,"v":-10.6},{"t":777.5,"v":9.5},{"t":778.9,"v":-5.1},{"t":781.7,"v":10.1},{"t":783.3,"v":-7.9},
      {"t":785.1,"v":5.6},{"t":786.5,"v":-6.4},{"t":787.9,"v":10.1},{"t":789.2,"v":-3.9},{"t":791.3,"v":2.8},{"t":792.4,"v":12.6},{"t":794.1,"v":3.2},{"t":796.6,"v":-3.5},{"t":799.6,"v":12.2},{"t":801,"v":-7.1},
      {"t":802.3,"v":3.5},{"t":804.8,"v":3.9}
    ]
  },
  "vconcat": [
    {
      "width": 2301,
      "height": 699,
      "view": {"stroke": "black", "strokeWidth": 4.5},
      "title": {"text": "(a)", "orient": "bottom", "anchor": "middle", "font": "Liberation Serif", "fontSize": 77, "fontWeight": "bold", "color": "black", "offset": 35, "dx": -93},
      "layer": [
        {
          "data": {"name": "pp"},
          "mark": {"type": "line", "strokeWidth": 3.5, "clip": true},
          "encoding": {
            "x": {"field": "t", "type": "quantitative", "scale": {"domain": [0, 900], "nice": false, "zero": false},
                  "axis": {"values": [0,100,200,300,400,500,600,700,800,900], "title": "Time/10s", "titlePadding": 29}},
            "y": {"field": "v", "type": "quantitative", "scale": {"domain": [0, 100], "nice": false},
                  "axis": {"values": [0,50,100], "title": "Amplitude/g", "titlePadding": 31}},
            "color": {"datum": "Peak-to-peak value", "type": "nominal",
                      "scale": {"domain": ["Peak-to-peak value", "LFC value"], "range": ["#b4b4b4", "#0000ff"]},
                      "legend": {"orient": "none", "legendX": 1427, "legendY": 48, "title": null, "symbolType": "M-2.2,0H2.2", "symbolSize": 7056, "symbolStrokeWidth": 4, "labelFont": "Liberation Serif", "labelFontSize": 87, "labelColor": "black", "labelOffset": 69, "rowPadding": 18, "labelLimit": 0}}
          }
        },
        {
          "data": {"name": "lfc"},
          "mark": {"type": "line", "strokeWidth": 4.5, "clip": true},
          "encoding": {
            "x": {"field": "t", "type": "quantitative"},
            "y": {"field": "v", "type": "quantitative"},
            "color": {"datum": "LFC value", "type": "nominal"}
          }
        }
      ]
    },
    {
      "width": 2313,
      "height": 709,
      "data": {"name": "d"},
      "title": {"text": "(b)", "orient": "bottom", "anchor": "middle", "font": "Liberation Serif", "fontSize": 77, "fontWeight": "bold", "color": "black", "offset": 40, "dx": -97},
      "mark": {"type": "line", "strokeWidth": 4.5, "color": "#0000ff", "clip": false},
      "encoding": {
        "x": {"field": "t", "type": "quantitative", "scale": {"domain": [0, 900], "nice": false, "zero": false, "range": [-26, 2313]},
              "axis": {"values": [0,100,200,300,400,500,600,700,800,900], "title": "Time/10s", "titlePadding": 11}},
        "y": {"field": "v", "type": "quantitative", "scale": {"domain": [-20, 20], "nice": false},
              "axis": {"values": [-20,0,20], "title": "Amplitude/g", "titlePadding": 35.5, "offset": 26, "labelExpr": "replace(datum.label, '−', '-')"}}
      }
    }
  ]
}
